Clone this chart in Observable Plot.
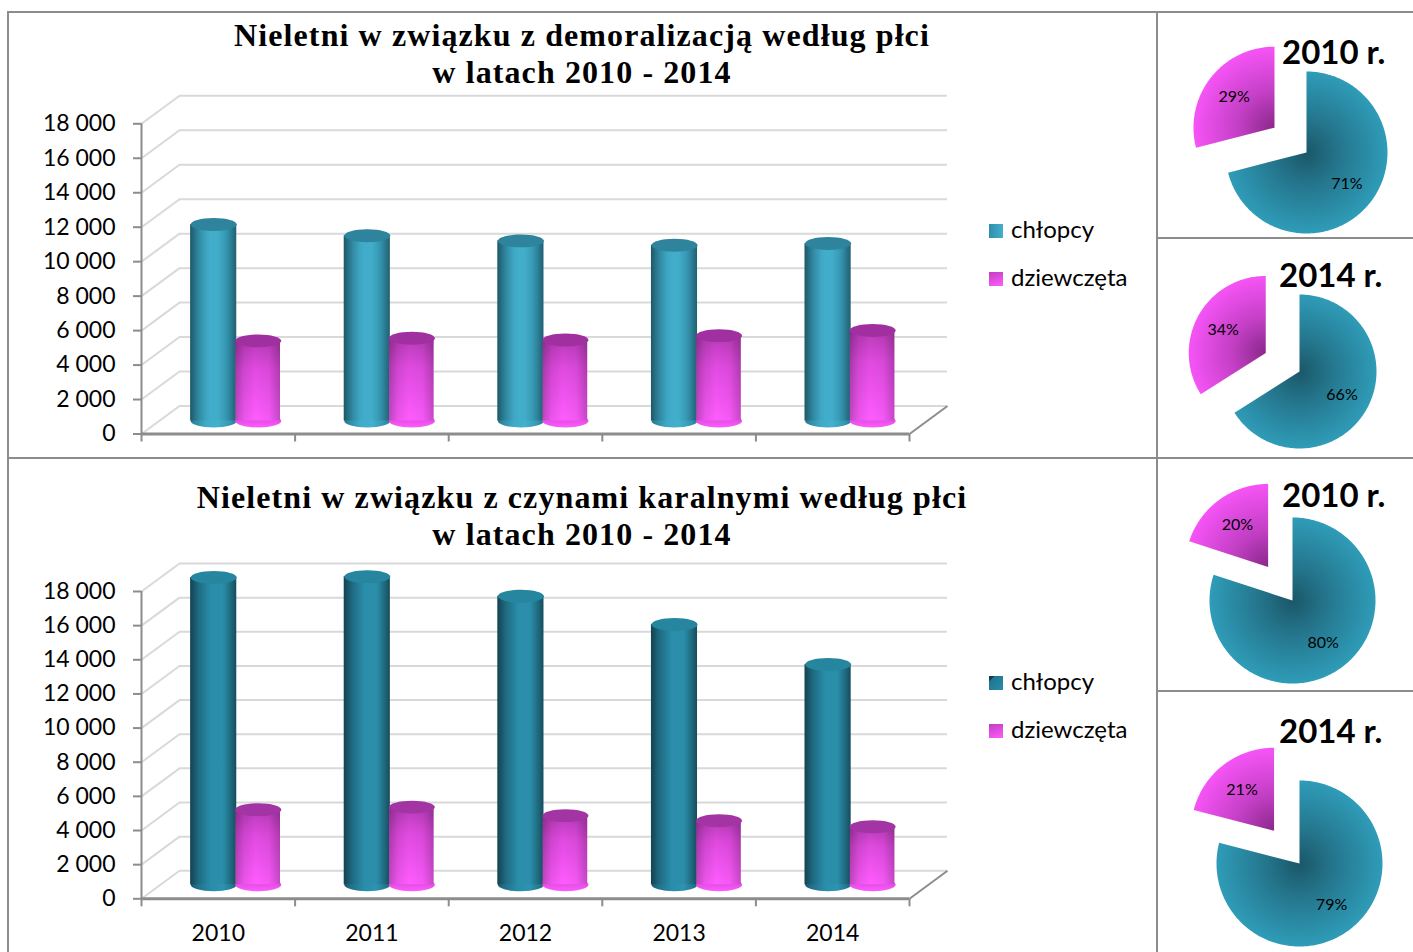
<!DOCTYPE html>
<html><head><meta charset="utf-8">
<script src="https://cdn.jsdelivr.net/npm/d3@7"></script>
<script src="https://cdn.jsdelivr.net/npm/@observablehq/plot@0.6"></script>
<style>
html,body{margin:0;padding:0;background:#fff;}
body{width:1413px;height:952px;position:relative;overflow:hidden;font-family:Lato,sans-serif;color:#000;}
.panel{position:absolute;border:2px solid #8c8c8c;box-sizing:border-box;}
.title{position:absolute;font-family:"Liberation Serif",serif;font-weight:bold;font-size:32px;letter-spacing:1.1px;text-align:center;white-space:nowrap;}
.txt{position:absolute;line-height:1;white-space:nowrap;}
.sw{position:absolute;width:14px;height:14px;}
.holder{position:absolute;}
.holder svg{display:block;overflow:visible;}
</style></head>
<body>
<script>
// ---------- data ----------
const years = ["2010", "2011", "2012", "2013", "2014"];
const series = ["chłopcy", "dziewczęta"];
const demoralizacjaChlopcy = [11400, 10750, 10450, 10200, 10300];
const demoralizacjaDziewczeta = [4650, 4800, 4700, 4950, 5250];
const karalneChlopcy = [18000, 18050, 16900, 15250, 12900];
const karalneDziewczeta = [4400, 4550, 4050, 3750, 3400];
const yTicks = [0, 2000, 4000, 6000, 8000, 10000, 12000, 14000, 16000, 18000];
const pieTitles = ["2010 r.", "2014 r."];
const demoralizacjaUdzial2010 = [71, 29];
const demoralizacjaUdzial2014 = [66, 34];
const karalneUdzial2010 = [80, 20];
const karalneUdzial2014 = [79, 21];
const chartTitles = ["Nieletni w związku z demoralizacją według płci", "Nieletni w związku z czynami karalnymi według płci"];
const chartSubtitle = "w latach 2010 - 2014";

// ---------- helpers ----------
const body = document.body;
function el(tag, cls, style, text) {
  const e = document.createElement(tag);
  if (cls) e.className = cls;
  if (style) e.setAttribute("style", style);
  if (text != null) e.textContent = text;
  body.appendChild(e);
  return e;
}
function defsOf(svg) {
  let d = d3.select(svg).select("defs.custom");
  if (d.empty()) d = d3.select(svg).insert("defs", ":first-child").attr("class", "custom");
  return d;
}
function linGrad(svg, id, stops, dir) {
  const g = defsOf(svg).append("linearGradient").attr("id", id)
    .attr("x1", 0).attr("y1", 0)
    .attr("x2", dir === "v" ? 0 : 1).attr("y2", dir === "v" ? 1 : 0);
  stops.forEach(([o, c, op]) => g.append("stop").attr("offset", o).attr("stop-color", c).attr("stop-opacity", op == null ? 1 : op));
}
function radGrad(svg, id, cx, cy, r, stops) {
  const g = defsOf(svg).append("radialGradient").attr("id", id)
    .attr("gradientUnits", "userSpaceOnUse").attr("cx", cx).attr("cy", cy).attr("r", r);
  stops.forEach(([o, c]) => g.append("stop").attr("offset", o).attr("stop-color", c));
}
const ellipseSymbol = {
  draw(ctx, size) {
    const rx = Math.sqrt(size / Math.PI), ry = rx * 0.28, k = 0.5523;
    ctx.moveTo(rx, 0);
    ctx.bezierCurveTo(rx, ry * k, rx * k, ry, 0, ry);
    ctx.bezierCurveTo(-rx * k, ry, -rx, ry * k, -rx, 0);
    ctx.bezierCurveTo(-rx, -ry * k, -rx * k, -ry, 0, -ry);
    ctx.bezierCurveTo(rx * k, -ry, rx, -ry * k, rx, 0);
    ctx.closePath();
  }
};
const fmt = d => d3.format(",")(d).replace(/,/g, " ");

// ---------- panels ----------
el("div", "panel", "left:7px;top:11px;width:1151px;height:448px;");
el("div", "panel", "left:7px;top:457px;width:1151px;height:520px;");
el("div", "panel", "left:1156px;top:11px;width:280px;height:228px;");
el("div", "panel", "left:1156px;top:237px;width:280px;height:222px;");
el("div", "panel", "left:1156px;top:457px;width:280px;height:235px;");
el("div", "panel", "left:1156px;top:690px;width:280px;height:290px;");

// ---------- bar charts ----------
function barChart(cfg) {
  const {boys, girls, y0px, y18px, svgTop, svgHeight, barDy, showYears, tag, boysStops, boysCap, girlsCap} = cfg;
  const width = 1000, left = 141, right = 909;
  const unitPx = (right - left) / 5;
  const depthX = 38 / unitPx, depthY = 28 * 18000 / (y0px - y18px);
  const rows = years.map((year, i) => ({i, year, boys: boys[i], girls: girls[i]}));
  const barR = 0.15 * unitPx;
  const geom = {boys: {x1: 0.32, x2: 0.62}, girls: {x1: 0.615, x2: 0.905}};
  const fills = {boys: `url(#${tag}B)`, girls: `url(#${tag}G)`};
  const caps = {boys: boysCap, girls: girlsCap};
  const barMarks = [];
  for (const s of ["boys", "girls"]) {
    const g = geom[s], c = (g.x1 + g.x2) / 2;
    barMarks.push(
      Plot.dot(rows, {x: d => d.i + c, y: 0, dy: barDy, r: barR, symbol: ellipseSymbol, fill: fills[s], stroke: "none"}),
      Plot.rect(rows, {x1: d => d.i + g.x1, x2: d => d.i + g.x2, y1: 0, y2: d => d[s], dy: barDy, fill: fills[s]}),
      Plot.rect(rows, {x1: d => d.i + g.x1, x2: d => d.i + g.x2, y1: 0, y2: d => d[s], dy: barDy, fill: `url(#${tag}S)`}),
      Plot.dot(rows, {x: d => d.i + c, y: d => d[s], dy: barDy, r: barR, symbol: ellipseSymbol, fill: caps[s], stroke: "none"})
    );
  }
  const svg = Plot.plot({
    width, height: svgHeight,
    marginLeft: left, marginRight: width - right,
    marginTop: y18px - svgTop, marginBottom: svgTop + svgHeight - y0px,
    x: {type: "linear", domain: [0, 5]},
    y: {domain: [0, 18000]},
    style: {fontFamily: "Lato, sans-serif", fontSize: "23px", color: "#000", background: "transparent", overflow: "visible"},
    marks: [
      Plot.ruleY(yTicks, {y: d => d, dx: 38, dy: -28, stroke: "#d9d9d9", strokeWidth: 2}),
      Plot.link(yTicks, {x1: 0, y1: d => d, x2: depthX, y2: d => d + depthY, stroke: "#d9d9d9", strokeWidth: 2}),
      Plot.link([0], {x1: 5, y1: 0, x2: 5 + depthX, y2: depthY, stroke: "#8c8c8c", strokeWidth: 2}),
      Plot.ruleY([0], {y: d => d, stroke: "#8c8c8c", strokeWidth: 3}),
      Plot.ruleX([0], {x: d => d, y1: 0, y2: 18000, stroke: "#8c8c8c", strokeWidth: 2}),
      Plot.axisY(yTicks, {tickSize: 8, tickPadding: 18, tickFormat: fmt, stroke: "#8c8c8c", strokeWidth: 2, fill: "#000", fontSize: 23, label: null}),
      Plot.axisX([0, 1, 2, 3, 4, 5], {tickSize: 8, tickFormat: () => "", stroke: "#8c8c8c", strokeWidth: 2, label: null}),
      ...barMarks,
      showYears ? Plot.text(rows, {x: d => d.i + 0.5, y: 0, dy: 35, text: "year", fontSize: 23, fill: "#000"}) : null
    ]
  });
  linGrad(svg, tag + "B", boysStops, "h");
  linGrad(svg, tag + "G", [[0, "#b83ab8"], [0.35, "#e04ae0"], [1, "#ff5cff"]], "v");
  linGrad(svg, tag + "S", [[0, "#000", 0.25], [0.2, "#000", 0.08], [0.45, "#000", 0], [0.75, "#000", 0.04], [1, "#000", 0.22]], "h");
  const h = el("div", "holder", `left:0px;top:${svgTop}px;`);
  h.appendChild(svg);
}

function titles(top, text) {
  const t = el("div", "title", `left:82px;width:1000px;top:${top}px;line-height:37px;`);
  t.appendChild(document.createTextNode(text));
  t.appendChild(document.createElement("br"));
  t.appendChild(document.createTextNode(chartSubtitle));
}

function legend(baselines, swatches) {
  series.forEach((s, i) => {
    el("div", "sw", `left:989px;top:${baselines[i] - 14}px;background:${swatches[i]};`);
    el("div", "txt", `left:1011px;top:${baselines[i] - 21.3}px;font-size:24px;`, s);
  });
}

titles(17, chartTitles[0]);
barChart({
  boys: demoralizacjaChlopcy, girls: demoralizacjaDziewczeta,
  y0px: 433.5, y18px: 123.3, svgTop: 95, svgHeight: 360, barDy: -13, showYears: false, tag: "t1",
  boysStops: [[0, "#287488"], [0.1, "#2f8aa3"], [0.35, "#40abc9"], [0.6, "#43b0cd"], [0.85, "#3598b4"], [1, "#2a7b92"]],
  boysCap: "#2d849c", girlsCap: "#a02fa0"
});
legend([238, 286], [
  "linear-gradient(90deg,#2f8fa9,#43afcc)",
  "linear-gradient(160deg,#c03ec0,#ff5cff)"
]);

titles(479, chartTitles[1]);
barChart({
  boys: karalneChlopcy, girls: karalneDziewczeta,
  y0px: 898.3, y18px: 591, svgTop: 560, svgHeight: 392, barDy: -14, showYears: true, tag: "t2",
  boysStops: [[0, "#1a5a6c"], [0.15, "#21718a"], [0.45, "#2a8eab"], [0.7, "#2c93b0"], [0.9, "#237890"], [1, "#1d6276"]],
  boysCap: "#27869f", girlsCap: "#a334a3"
});
legend([690, 738], [
  "linear-gradient(135deg,#123e4a 0%,#123e4a 20%,#1f7590 21%,#2a8dab 100%)",
  "linear-gradient(160deg,#c03ec0,#ff5cff)"
]);

// ---------- pies ----------
function pie(cfg) {
  const {shares, title, panelTop, panelHeight, cx, cy, r, tag, titleLeft, titleBaseline} = cfg;
  const panelLeft = 1158, width = 255;
  const arcs = d3.pie().sort(null).value(d => d)(shares);
  const explode = [0, 0.5];
  const slices = arcs.map((a, k) => {
    const mid = (a.startAngle + a.endAngle) / 2;
    const ox = explode[k] * Math.sin(mid), oy = explode[k] * Math.cos(mid);
    const n = Math.max(4, Math.ceil((a.endAngle - a.startAngle) / (Math.PI / 180)));
    const pts = [{x: ox, y: oy}];
    for (let j = 0; j <= n; j++) {
      const t = a.startAngle + (a.endAngle - a.startAngle) * j / n;
      pts.push({x: ox + Math.sin(t), y: oy + Math.cos(t)});
    }
    pts.push({x: ox, y: oy});
    return {pts, ox, oy, label: {x: ox + 0.63 * Math.sin(mid), y: oy + 0.63 * Math.cos(mid), text: a.data + "%"}};
  });
  const svg = Plot.plot({
    width, height: panelHeight,
    marginLeft: cx - r - panelLeft, marginRight: panelLeft + width - (cx + r),
    marginTop: cy - r - panelTop, marginBottom: panelTop + panelHeight - (cy + r),
    x: {domain: [-1, 1], axis: null},
    y: {domain: [-1, 1], axis: null},
    style: {fontFamily: "Lato, sans-serif", background: "transparent", overflow: "visible"},
    marks: [
      ...slices.map((s, k) => Plot.line(s.pts, {x: "x", y: "y", fill: `url(#${tag}${k})`, stroke: "none"})),
      Plot.text(slices.map(s => s.label), {x: "x", y: "y", text: "text", fontSize: 16, fill: "#000"})
    ]
  });
  const sx = svg.scale("x"), sy = svg.scale("y");
  const rp = sx.apply(1) - sx.apply(0);
  radGrad(svg, tag + "0", sx.apply(slices[0].ox), sy.apply(slices[0].oy), rp,
    [[0, "#1b5768"], [0.4, "#24758c"], [1, "#2f9cb8"]]);
  radGrad(svg, tag + "1", sx.apply(slices[1].ox), sy.apply(slices[1].oy), rp,
    [[0, "#8a288a"], [0.45, "#c33fc5"], [1, "#f654f6"]]);
  const h = el("div", "holder", `left:${panelLeft}px;top:${panelTop}px;`);
  h.appendChild(svg);
  el("div", "txt", `left:${titleLeft}px;top:${titleBaseline - 0.887 * 33}px;font-size:33px;font-weight:bold;`, title);
}

pie({shares: demoralizacjaUdzial2010, title: pieTitles[0], panelTop: 13, panelHeight: 225, cx: 1306, cy: 152, r: 81, tag: "p1", titleLeft: 1282, titleBaseline: 64});
pie({shares: demoralizacjaUdzial2014, title: pieTitles[1], panelTop: 239, panelHeight: 219, cx: 1299, cy: 371, r: 77, tag: "p2", titleLeft: 1279, titleBaseline: 287});
pie({shares: karalneUdzial2010, title: pieTitles[0], panelTop: 459, panelHeight: 232, cx: 1292, cy: 600, r: 83, tag: "p3", titleLeft: 1282, titleBaseline: 507});
pie({shares: karalneUdzial2014, title: pieTitles[1], panelTop: 692, panelHeight: 260, cx: 1299, cy: 863, r: 83, tag: "p4", titleLeft: 1279, titleBaseline: 743});
</script>
</body></html>
